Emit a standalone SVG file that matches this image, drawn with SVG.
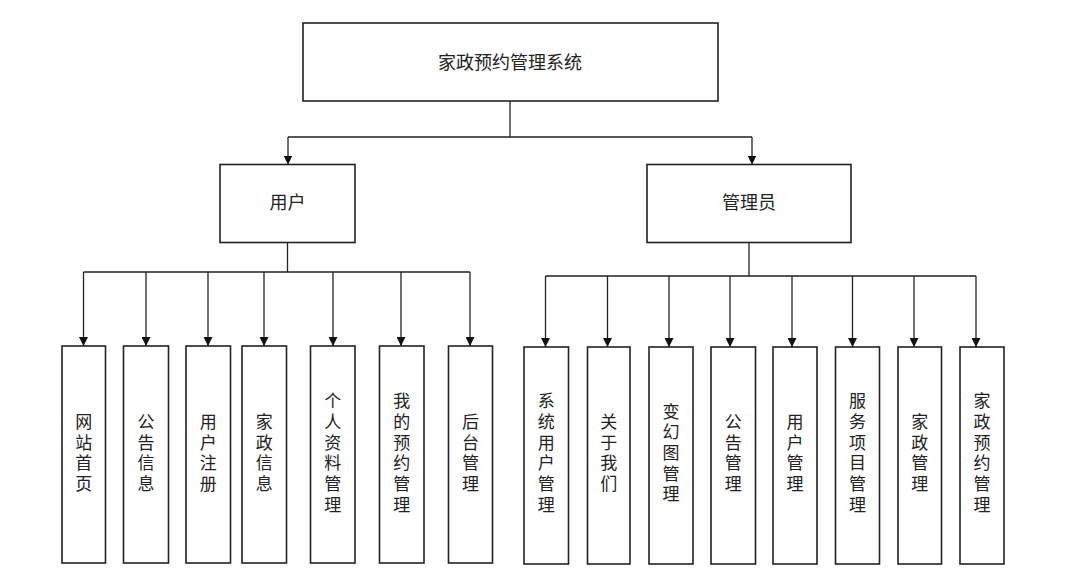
<svg xmlns="http://www.w3.org/2000/svg" width="1080" height="588" viewBox="0 0 1080 588">
<style>
.box{fill:#fff;stroke:#222;stroke-width:1.6}
.lbl{font-family:"Liberation Sans","Noto Sans CJK SC",sans-serif;font-size:18px;fill:#222;text-anchor:middle;dominant-baseline:central}
.vl{font-family:"Liberation Sans","Noto Sans CJK SC",sans-serif;font-size:17px;fill:#222;text-anchor:middle;dominant-baseline:central}
.con{fill:none;stroke:#222;stroke-width:1.3}
</style>
<defs>
<marker id="arr" viewBox="0 0 10 10" refX="10" refY="5" markerWidth="9" markerHeight="9" orient="auto" markerUnits="userSpaceOnUse">
<path d="M0,0 L10,5 L0,10 z" fill="#111"/>
</marker>
</defs>
<rect width="1080" height="588" fill="#fff"/>
<g id="connectors">
<path class="con" d="M510,101 V137 M288,137 H752"/>
<path class="con" d="M288,137 V164.5" marker-end="url(#arr)"/>
<path class="con" d="M752,137 V164.5" marker-end="url(#arr)"/>
<path class="con" d="M287.5,243 V272 M83.5,272 H470"/>
<path class="con" d="M83.5,272 V346" marker-end="url(#arr)"/>
<path class="con" d="M146,272 V346" marker-end="url(#arr)"/>
<path class="con" d="M208,272 V346" marker-end="url(#arr)"/>
<path class="con" d="M264,272 V346" marker-end="url(#arr)"/>
<path class="con" d="M333,272 V346" marker-end="url(#arr)"/>
<path class="con" d="M401,272 V346" marker-end="url(#arr)"/>
<path class="con" d="M470,272 V346" marker-end="url(#arr)"/>
<path class="con" d="M749,243 V276 M545.5,276 H976"/>
<path class="con" d="M545.5,276 V347" marker-end="url(#arr)"/>
<path class="con" d="M607.5,276 V347" marker-end="url(#arr)"/>
<path class="con" d="M669,276 V347" marker-end="url(#arr)"/>
<path class="con" d="M730,276 V347" marker-end="url(#arr)"/>
<path class="con" d="M792,276 V347" marker-end="url(#arr)"/>
<path class="con" d="M852.5,276 V347" marker-end="url(#arr)"/>
<path class="con" d="M914,276 V347" marker-end="url(#arr)"/>
<path class="con" d="M976,276 V347" marker-end="url(#arr)"/>
</g>
<g id="root"><rect class="box" x="303" y="23" width="415" height="78"/><text class="lbl" x="510" y="63">家政预约管理系统</text></g>
<g id="user"><rect class="box" x="220" y="164.5" width="135" height="78"/><text class="lbl" x="287.5" y="203">用户</text></g>
<g id="admin"><rect class="box" x="647" y="164.5" width="204" height="78"/><text class="lbl" x="749" y="203">管理员</text></g>

<g id="u1"><rect class="box" x="62" y="346" width="43.5" height="217"/><text class="vl"><tspan x="83.8" y="422">网</tspan><tspan x="83.8" y="442.7">站</tspan><tspan x="83.8" y="463.4">首</tspan><tspan x="83.8" y="484.1">页</tspan></text></g>
<g id="u2"><rect class="box" x="123.5" y="346" width="45" height="217"/><text class="vl"><tspan x="146" y="422">公</tspan><tspan x="146" y="442.7">告</tspan><tspan x="146" y="463.4">信</tspan><tspan x="146" y="484.1">息</tspan></text></g>
<g id="u3"><rect class="box" x="186" y="346" width="44.5" height="217"/><text class="vl"><tspan x="208.3" y="422">用</tspan><tspan x="208.3" y="442.7">户</tspan><tspan x="208.3" y="463.4">注</tspan><tspan x="208.3" y="484.1">册</tspan></text></g>
<g id="u4"><rect class="box" x="242" y="346" width="44.5" height="217"/><text class="vl"><tspan x="264.3" y="422">家</tspan><tspan x="264.3" y="442.7">政</tspan><tspan x="264.3" y="463.4">信</tspan><tspan x="264.3" y="484.1">息</tspan></text></g>
<g id="u5"><rect class="box" x="310.5" y="346" width="44.5" height="217"/><text class="vl"><tspan x="332.8" y="401.3">个</tspan><tspan x="332.8" y="422">人</tspan><tspan x="332.8" y="442.7">资</tspan><tspan x="332.8" y="463.4">料</tspan><tspan x="332.8" y="484.1">管</tspan><tspan x="332.8" y="504.8">理</tspan></text></g>
<g id="u6"><rect class="box" x="379.5" y="346" width="44.5" height="217"/><text class="vl"><tspan x="401.8" y="401.3">我</tspan><tspan x="401.8" y="422">的</tspan><tspan x="401.8" y="442.7">预</tspan><tspan x="401.8" y="463.4">约</tspan><tspan x="401.8" y="484.1">管</tspan><tspan x="401.8" y="504.8">理</tspan></text></g>
<g id="u7"><rect class="box" x="448.5" y="346" width="44" height="217"/><text class="vl"><tspan x="470.5" y="422">后</tspan><tspan x="470.5" y="442.7">台</tspan><tspan x="470.5" y="463.4">管</tspan><tspan x="470.5" y="484.1">理</tspan></text></g>

<g id="a1"><rect class="box" x="524" y="347" width="44.5" height="217"/><text class="vl"><tspan x="546.3" y="401.3">系</tspan><tspan x="546.3" y="422">统</tspan><tspan x="546.3" y="442.7">用</tspan><tspan x="546.3" y="463.4">户</tspan><tspan x="546.3" y="484.1">管</tspan><tspan x="546.3" y="504.8">理</tspan></text></g>
<g id="a2"><rect class="box" x="587.5" y="347" width="42.5" height="217"/><text class="vl"><tspan x="608.8" y="422">关</tspan><tspan x="608.8" y="442.7">于</tspan><tspan x="608.8" y="463.4">我</tspan><tspan x="608.8" y="484.1">们</tspan></text></g>
<g id="a3"><rect class="box" x="649" y="347" width="44" height="217"/><text class="vl"><tspan x="671" y="411.6">变</tspan><tspan x="671" y="432.3">幻</tspan><tspan x="671" y="453">图</tspan><tspan x="671" y="473.7">管</tspan><tspan x="671" y="494.4">理</tspan></text></g>
<g id="a4"><rect class="box" x="711" y="347" width="44.5" height="217"/><text class="vl"><tspan x="733.3" y="422">公</tspan><tspan x="733.3" y="442.7">告</tspan><tspan x="733.3" y="463.4">管</tspan><tspan x="733.3" y="484.1">理</tspan></text></g>
<g id="a5"><rect class="box" x="773" y="347" width="44" height="217"/><text class="vl"><tspan x="795" y="422">用</tspan><tspan x="795" y="442.7">户</tspan><tspan x="795" y="463.4">管</tspan><tspan x="795" y="484.1">理</tspan></text></g>
<g id="a6"><rect class="box" x="835.5" y="347" width="44" height="217"/><text class="vl"><tspan x="857.5" y="401.3">服</tspan><tspan x="857.5" y="422">务</tspan><tspan x="857.5" y="442.7">项</tspan><tspan x="857.5" y="463.4">目</tspan><tspan x="857.5" y="484.1">管</tspan><tspan x="857.5" y="504.8">理</tspan></text></g>
<g id="a7"><rect class="box" x="898" y="347" width="43.5" height="217"/><text class="vl"><tspan x="919.8" y="422">家</tspan><tspan x="919.8" y="442.7">政</tspan><tspan x="919.8" y="463.4">管</tspan><tspan x="919.8" y="484.1">理</tspan></text></g>
<g id="a8"><rect class="box" x="960" y="347" width="44" height="217"/><text class="vl"><tspan x="982" y="401.3">家</tspan><tspan x="982" y="422">政</tspan><tspan x="982" y="442.7">预</tspan><tspan x="982" y="463.4">约</tspan><tspan x="982" y="484.1">管</tspan><tspan x="982" y="504.8">理</tspan></text></g>
</svg>
